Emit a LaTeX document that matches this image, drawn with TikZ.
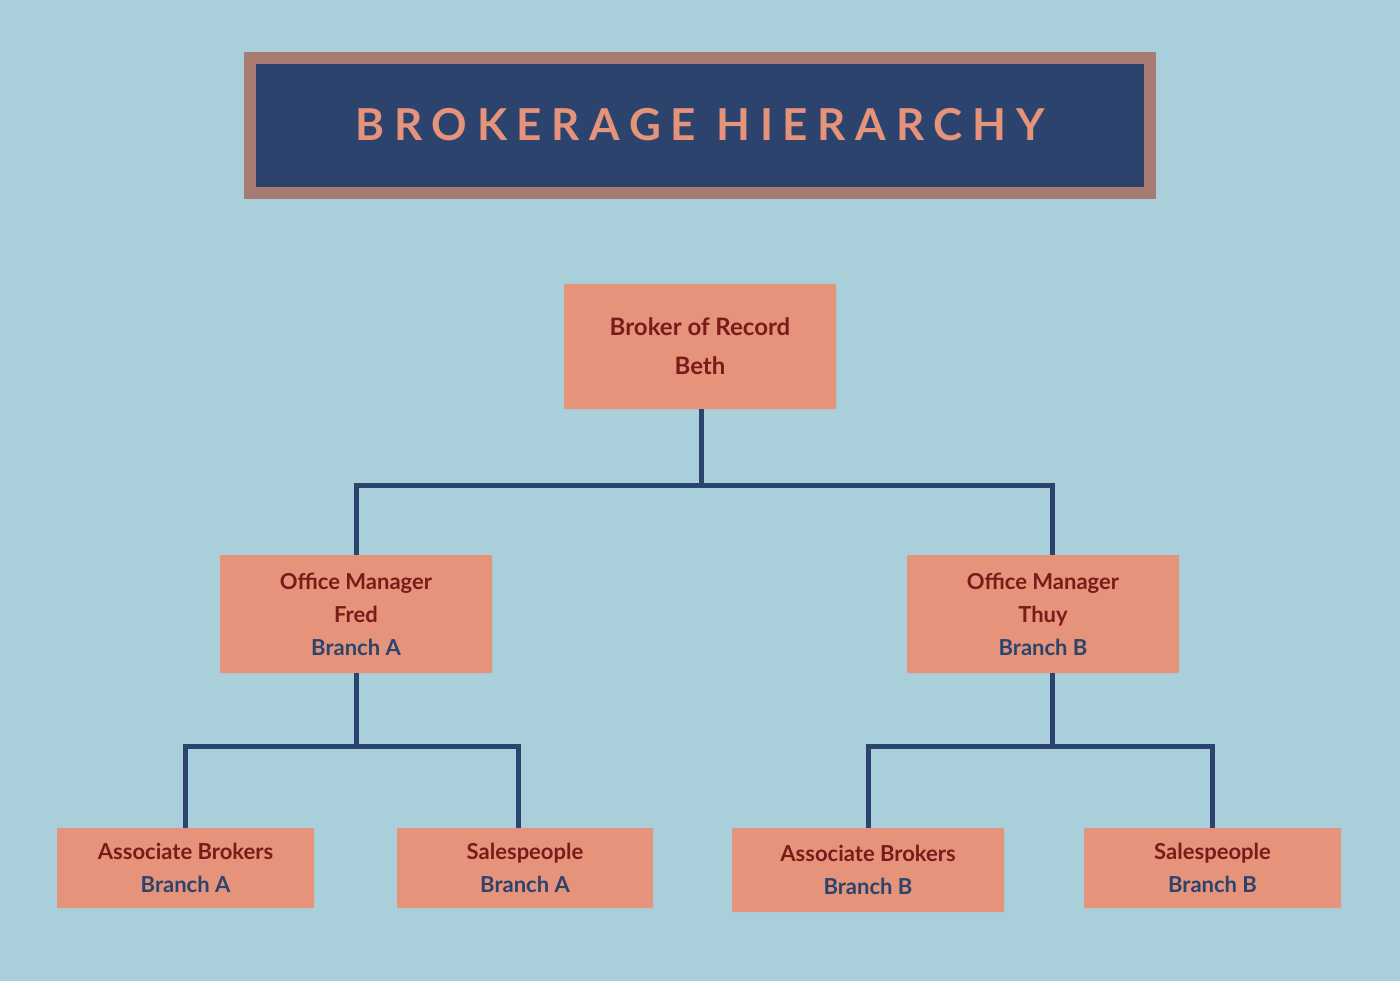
\documentclass[tikz,border=0pt]{standalone}
\usepackage{fontspec}
\setmainfont{Lato}
\definecolor{bgblue}{HTML}{A8CFDA}
\definecolor{navy}{HTML}{2B436D}
\definecolor{rosebrown}{HTML}{A77B72}
\definecolor{salmon}{HTML}{E5937A}
\definecolor{darkred}{HTML}{7A1A1A}
\tikzset{
  rolebox/.style={fill=salmon,rounded corners=1pt,align=center,font=\fontsize{22}{33}\selectfont\bfseries,text=darkred,inner sep=0pt},
  link/.style={draw=navy,line width=5pt}
}
\newcommand{\branch}[1]{\textcolor{navy}{#1}}
\begin{document}
\begin{tikzpicture}[x=1pt,y=-1pt]
  \fill[bgblue] (0,0) rectangle (1400,981);
  \useasboundingbox (0,0) rectangle (1400,981);
  % title
  \draw[fill=navy,draw=rosebrown,line width=12pt] (250,58) rectangle (1150,193);
  \node (title) at (700,125) {\fontsize{44}{50}\selectfont\bfseries\addfontfeatures{LetterSpace=22}\textcolor{salmon}{BROKERAGE HIERARCHY}};
  % boxes
  \node[rolebox,minimum width=272pt,minimum height=125pt,font=\fontsize{24}{39}\selectfont\bfseries] (bor) at (700,346.5) {Broker of Record\\Beth};
  \node[rolebox,minimum width=272pt,minimum height=118pt] (oma) at (356,614) {Office Manager\\Fred\\\branch{Branch A}};
  \node[rolebox,minimum width=272pt,minimum height=118pt] (omb) at (1043,614) {Office Manager\\Thuy\\\branch{Branch B}};
  \node[rolebox,minimum width=257pt,minimum height=80pt] (aba) at (185.5,868) {Associate Brokers\\\branch{Branch A}};
  \node[rolebox,minimum width=256pt,minimum height=80pt] (spa) at (525,868) {Salespeople\\\branch{Branch A}};
  \node[rolebox,minimum width=272pt,minimum height=84pt] (abb) at (868,870) {Associate Brokers\\\branch{Branch B}};
  \node[rolebox,minimum width=257pt,minimum height=80pt] (spb) at (1212.5,868) {Salespeople\\\branch{Branch B}};
  % connectors
  \coordinate (j0) at (701,485);
  \coordinate (ja) at (356,746);
  \coordinate (jb) at (1052,746);
  \draw[link] (bor.south -| j0) -- (j0);
  \draw[link] (356,555) |- (j0) -| (1052,555);
  \draw[link] (oma.south -| ja) -- (ja);
  \draw[link] (aba.north) |- (ja) -| (518,828);
  \draw[link] (omb.south -| jb) -- (jb);
  \draw[link] (abb.north) |- (jb) -| (spb.north);
\end{tikzpicture}
\end{document}
